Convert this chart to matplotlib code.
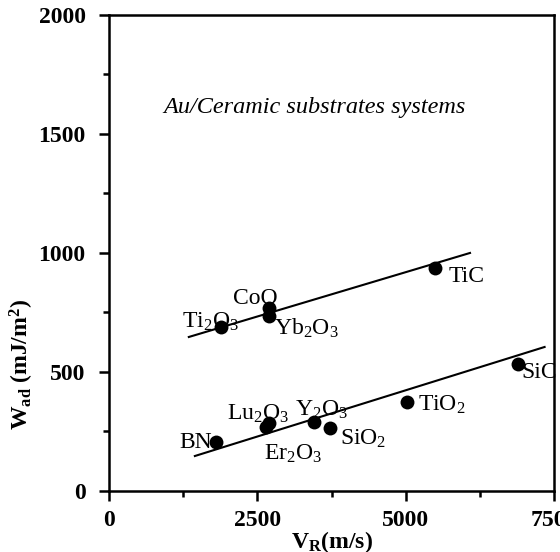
import numpy as np
import matplotlib
matplotlib.use("Agg")
import matplotlib.pyplot as plt
from matplotlib.ticker import MultipleLocator

plt.rcParams["font.family"] = "Liberation Serif"
plt.rcParams["mathtext.fontset"] = "custom"
plt.rcParams["mathtext.rm"] = "Liberation Serif"
plt.rcParams["mathtext.it"] = "Liberation Serif:italic"
plt.rcParams["mathtext.bf"] = "Liberation Serif:bold"

# 데이터
materials = ["Ti2O3", "CoO", "Yb2O3", "TiC", "BN", "Lu2O3", "Er2O3", "Y2O3", "SiO2", "TiO2", "SiC"]
v_r = [1890, 2690, 2690, 5490, 1800, 2690, 2640, 3450, 3720, 5030, 6900]
w_ad = [690, 770, 735, 937, 206, 286, 270, 290, 265, 374, 534]

# 라벨 (텍스트, 위치)
label_text = [r"$\mathrm{Ti_2O_3}$", "CoO", r"$\mathrm{Yb_2O_3}$", "TiC", "BN",
              r"$\mathrm{Lu_2O_3}$", r"$\mathrm{Er_2O_3}$", r"$\mathrm{Y_2O_3}$",
              r"$\mathrm{SiO_2}$", r"$\mathrm{TiO_2}$", "SiC"]
label_x = [1700, 2465, 3330, 6035, 1462, 2516, 3094, 3587, 4284, 5610, 7260]
label_y = [712, 807, 683, 903, 204, 326, 158, 343, 221, 360, 496]

# 회귀선 양 끝점
upper_line_x = [1343, 6086]
upper_line_y = [647, 1000]
lower_line_x = [1445, 7344]
lower_line_y = [147, 605]

fig = plt.figure(figsize=(5.6, 5.52), dpi=100)
ax = fig.add_axes([0.195, 0.1105, 0.794, 0.8625])

ax.plot(upper_line_x, upper_line_y, color="black", linewidth=1.5)
ax.plot(lower_line_x, lower_line_y, color="black", linewidth=1.5)
ax.plot(v_r, w_ad, "o", color="black", markersize=10, markeredgewidth=0)

for txt, x, y in zip(label_text, label_x, label_y):
    ax.text(x, y, txt, ha="center", va="center", fontsize=17)

ax.text(3470, 1609, "Au/Ceramic substrates systems", style="italic",
        ha="center", va="center", fontsize=17.5)

ax.set_xlim(0, 7500)
ax.set_ylim(0, 2000)
ax.xaxis.set_major_locator(MultipleLocator(2500))
ax.xaxis.set_minor_locator(MultipleLocator(1250))
ax.yaxis.set_major_locator(MultipleLocator(500))
ax.yaxis.set_minor_locator(MultipleLocator(250))

ax.tick_params(which="both", direction="out", width=1.8, labelsize=17)
ax.tick_params(which="major", length=7)
ax.tick_params(which="minor", length=4)
ax.tick_params(axis="x", pad=7)
ax.tick_params(axis="y", pad=10)
for lab in ax.get_xticklabels() + ax.get_yticklabels():
    lab.set_fontweight("bold")
for sp in ax.spines.values():
    sp.set_linewidth(1.8)

ax.set_xlabel(r"$\mathbf{V_R(m/s)}$", fontsize=17, labelpad=-2)
ax.set_ylabel(r"$\mathbf{W_{ad}\ (mJ/m^2)}$", fontsize=17)
ax.yaxis.set_label_coords(-0.165, 0.265)

plt.savefig("out.png", dpi=100)
